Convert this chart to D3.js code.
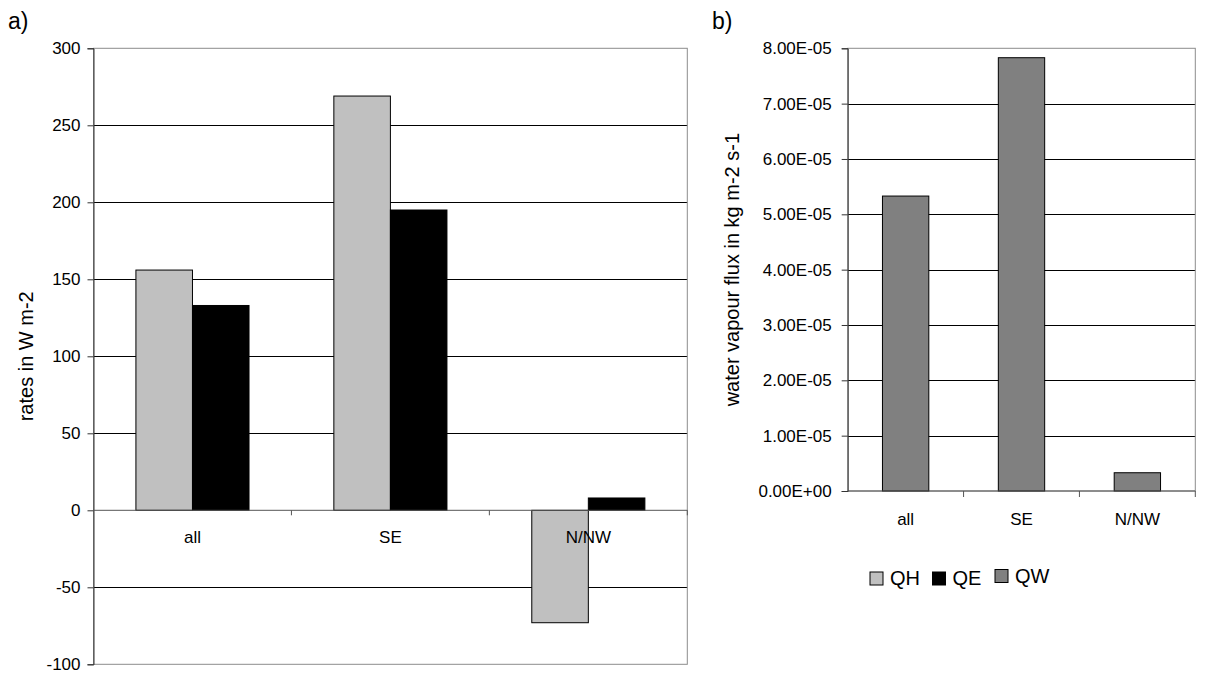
<!DOCTYPE html>
<html>
<head>
<meta charset="utf-8">
<script src="https://cdn.jsdelivr.net/npm/d3@7"></script>
<style>
  html, body { margin: 0; padding: 0; background: #fff; }
  svg { display: block; font-family: "Liberation Sans", Arial, Helvetica, sans-serif; }
</style>
</head>
<body>
<svg id="chart" width="1206" height="675"></svg>
<script>
// Heat fluxes per wind sector
const categories = ["all", "SE", "N/NW"];
const seriesNames = ["QH", "QE"];
const qhValues = [156, 269, -73];     // sensible heat flux, W m-2
const qeValues = [133, 195, 8];       // latent heat flux, W m-2
const qwValues = [5.33e-5, 7.83e-5, 0.33e-5]; // water vapour flux, kg m-2 s-1
const leftTicks = [-100, -50, 0, 50, 100, 150, 200, 250, 300];
const rightTicks = [0, 1e-5, 2e-5, 3e-5, 4e-5, 5e-5, 6e-5, 7e-5, 8e-5];
const legendNames = ["QH", "QE", "QW"];

const colors = { QH: "#c0c0c0", QE: "#000000", QW: "#808080" };

const svg = d3.select("#chart");

// Excel-style scientific labels, e.g. 8.00E-05
function sci(v) {
  if (v === 0) return "0.00E+00";
  const e = Math.floor(Math.log10(Math.abs(v)) + 1e-9);
  const m = v / Math.pow(10, e);
  const sign = e < 0 ? "-" : "+";
  return m.toFixed(2) + "E" + sign + String(Math.abs(e)).padStart(2, "0");
}
// plain integers with an ASCII hyphen for negatives
const plainInt = v => String(Math.round(v));

// ---------- panel a ----------
const A = { left: 93.5, right: 687.3, top: 48.3, bottom: 664.3 };
const xa = d3.scaleBand().domain(categories).range([A.left, A.right]).padding(0);
const xa1 = d3.scaleBand().domain(seriesNames).range([0, xa.bandwidth()]).paddingInner(0).paddingOuter(0.75);
const ya = d3.scaleLinear().domain([-100, 300]).range([A.bottom, A.top]);

const ga = svg.append("g");

// gridlines
ga.selectAll("line.grid").data(leftTicks.filter(t => t !== -100 && t !== 300 && t !== 0))
  .join("line")
  .attr("x1", A.left).attr("x2", A.right)
  .attr("y1", d => Math.round(ya(d)) + 0.5).attr("y2", d => Math.round(ya(d)) + 0.5)
  .attr("stroke", "#000").attr("stroke-width", 1);

// plot border
ga.append("rect")
  .attr("x", A.left).attr("y", A.top)
  .attr("width", A.right - A.left).attr("height", A.bottom - A.top)
  .attr("fill", "none").attr("stroke", "#8c8c8c").attr("stroke-width", 1);

// bars
const rowsA = categories.map((c, i) => ({ cat: c, QH: qhValues[i], QE: qeValues[i] }));
ga.selectAll("g.grp").data(rowsA).join("g")
  .attr("transform", d => `translate(${xa(d.cat)},0)`)
  .selectAll("rect")
  .data(d => seriesNames.map(k => ({ key: k, value: d[k] })))
  .join("rect")
  .attr("x", d => xa1(d.key))
  .attr("width", xa1.bandwidth())
  .attr("y", d => ya(Math.max(0, d.value)))
  .attr("height", d => Math.abs(ya(d.value) - ya(0)))
  .attr("fill", d => colors[d.key])
  .attr("stroke", "#000").attr("stroke-width", 1);

// y axis
const axA = d3.axisLeft(ya).tickValues(leftTicks).tickSize(6).tickPadding(7).tickFormat(plainInt);
const gya = ga.append("g").attr("transform", `translate(${A.left},0)`).call(axA);
gya.select(".domain").attr("stroke", "#333");
gya.selectAll(".tick line").attr("stroke", "#333");
gya.selectAll(".tick text").attr("font-size", 17).attr("fill", "#000")
  .attr("font-family", "Liberation Sans, Arial, sans-serif");

// x axis at zero
const gxa = ga.append("g").attr("transform", `translate(0,${ya(0)})`);
gxa.append("line").attr("x1", A.left).attr("x2", A.right).attr("y1", 0).attr("y2", 0)
  .attr("stroke", "#555").attr("stroke-width", 1);
gxa.selectAll("line.ctick").data(categories)
  .join("line")
  .attr("x1", d => xa(d) + xa.bandwidth()).attr("x2", d => xa(d) + xa.bandwidth())
  .attr("y1", 0).attr("y2", 5).attr("stroke", "#555");
gxa.selectAll("text").data(categories).join("text")
  .attr("x", d => xa(d) + xa.bandwidth() / 2)
  .attr("y", 33)
  .attr("text-anchor", "middle").attr("font-size", 17).attr("fill", "#000")
  .text(d => d);

// axis title
ga.append("text")
  .attr("transform", `translate(33,${(A.top + A.bottom) / 2}) rotate(-90)`)
  .attr("text-anchor", "middle").attr("font-size", 20).attr("fill", "#000")
  .text("rates in W m-2");

svg.append("text").attr("x", 8).attr("y", 29).attr("font-size", 23).text("a)");

// ---------- panel b ----------
const B = { left: 847.7, right: 1195.3, top: 48.3, bottom: 491 };
const xb = d3.scaleBand().domain(categories).range([B.left, B.right]).padding(0);
const xb1 = d3.scaleBand().domain(["QW"]).range([0, xb.bandwidth()]).paddingOuter(0.75);
const yb = d3.scaleLinear().domain([0, 8e-5]).range([B.bottom, B.top]);

const gb = svg.append("g");

gb.selectAll("line.grid").data(rightTicks.filter(t => t !== 0 && t !== 8e-5))
  .join("line")
  .attr("x1", B.left).attr("x2", B.right)
  .attr("y1", d => Math.round(yb(d)) + 0.5).attr("y2", d => Math.round(yb(d)) + 0.5)
  .attr("stroke", "#000").attr("stroke-width", 1);

gb.append("rect")
  .attr("x", B.left).attr("y", B.top)
  .attr("width", B.right - B.left).attr("height", B.bottom - B.top)
  .attr("fill", "none").attr("stroke", "#8c8c8c").attr("stroke-width", 1);

gb.selectAll("rect.bar").data(categories.map((c, i) => ({ cat: c, value: qwValues[i] })))
  .join("rect")
  .attr("x", d => xb(d.cat) + xb1("QW"))
  .attr("width", xb1.bandwidth())
  .attr("y", d => yb(d.value))
  .attr("height", d => yb(0) - yb(d.value))
  .attr("fill", colors.QW).attr("stroke", "#000").attr("stroke-width", 1);

const axB = d3.axisLeft(yb).tickValues(rightTicks).tickSize(6).tickPadding(10).tickFormat(sci);
const gyb = gb.append("g").attr("transform", `translate(${B.left},0)`).call(axB);
gyb.select(".domain").attr("stroke", "#333");
gyb.selectAll(".tick line").attr("stroke", "#333");
gyb.selectAll(".tick text").attr("font-size", 17).attr("fill", "#000")
  .attr("font-family", "Liberation Sans, Arial, sans-serif");

const gxb = gb.append("g").attr("transform", `translate(0,${yb(0)})`);
gxb.append("line").attr("x1", B.left).attr("x2", B.right).attr("y1", 0).attr("y2", 0)
  .attr("stroke", "#555");
gxb.selectAll("line.ctick").data(categories).join("line")
  .attr("x1", d => xb(d) + xb.bandwidth()).attr("x2", d => xb(d) + xb.bandwidth())
  .attr("y1", 0).attr("y2", 6).attr("stroke", "#555");
gxb.selectAll("text").data(categories).join("text")
  .attr("x", d => xb(d) + xb.bandwidth() / 2)
  .attr("y", 34)
  .attr("text-anchor", "middle").attr("font-size", 17).attr("fill", "#000")
  .text(d => d);

gb.append("text")
  .attr("transform", `translate(739,${(B.top + B.bottom) / 2}) rotate(-90)`)
  .attr("text-anchor", "middle").attr("font-size", 20).attr("fill", "#000")
  .text("water vapour flux in kg m-2 s-1");

svg.append("text").attr("x", 712).attr("y", 29).attr("font-size", 23).text("b)");

// ---------- legend ----------
const legendX = d3.scalePoint().domain(legendNames).range([870, 995]);
const lg = svg.append("g").selectAll("g").data(legendNames).join("g")
  .attr("transform", d => `translate(${legendX(d)},${d === "QW" ? 569.5 : 572})`);
lg.append("rect").attr("width", 13).attr("height", 13)
  .attr("fill", d => colors[d]).attr("stroke", "#000").attr("stroke-width", 1);
lg.append("text").attr("x", 20).attr("y", 13).attr("font-size", 20).attr("fill", "#000")
  .text(d => d);
</script>
</body>
</html>
